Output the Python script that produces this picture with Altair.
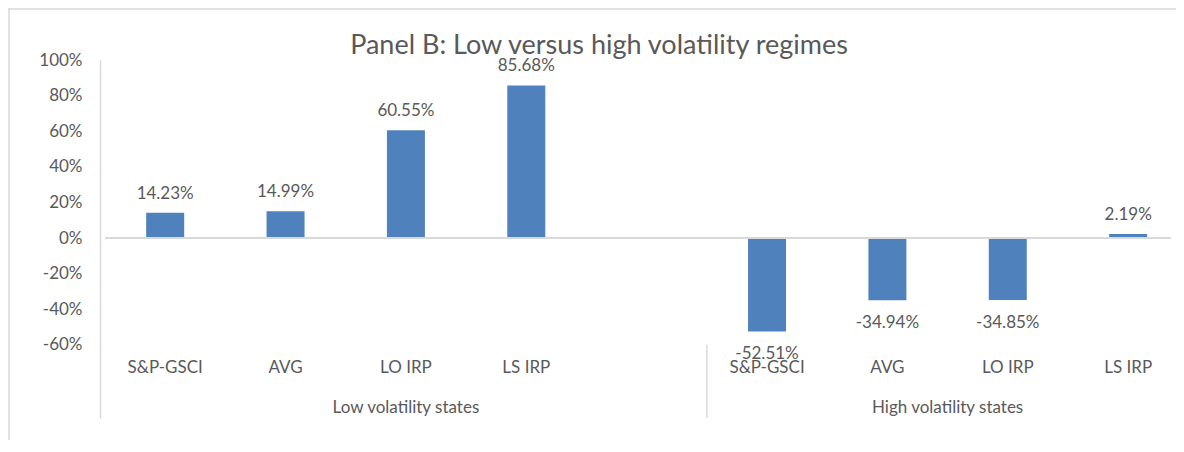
import altair as alt
import pandas as pd

# ---- data ----
categories = ["S&P-GSCI", "AVG", "LO IRP", "LS IRP",
              "S&P-GSCI", "AVG", "LO IRP", "LS IRP"]
groups = ["Low volatility states"] * 4 + ["High volatility states"] * 4
values = [0.1423, 0.1499, 0.6055, 0.8568,
          -0.5251, -0.3494, -0.3485, 0.0219]
slots = [0.5, 1.5, 2.5, 3.5, 5.5, 6.5, 7.5, 8.5]   # one empty slot between groups
group_names = ["Low volatility states", "High volatility states"]
group_centers = [2.5, 7.0]
group_edges = [5.0]
y_ticks = [-0.6, -0.4, -0.2, 0.0, 0.2, 0.4, 0.6, 0.8, 1.0]
title_text = "Panel B: Low versus high volatility regimes"

# ---- style ----
W, H = 1076, 358
SLOT = 121.5
FONT = "Lato"
TXT = "#595959"
LINE = "#d9d9d9"
BAR = "#4f81bd"
Y_MIN = -1.011
CAT_Y = -0.758
GRP_Y = -0.983
DIV_TOP = -0.6

df = pd.DataFrame({"cat": categories, "group": groups, "value": values, "pos": slots})
df["label"] = [f"{v*100:.2f}%" for v in values]
df["cat_y"] = CAT_Y
gdf = pd.DataFrame({"group": group_names, "pos": group_centers, "gy": GRP_Y})
edf = pd.DataFrame({"pos": group_edges, "y1": DIV_TOP, "y2": Y_MIN})
zdf = pd.DataFrame({"x1": [0.0], "x2": [W / SLOT], "y": [0.0]})
tdf = pd.DataFrame({"t": [title_text]})

xs = alt.Scale(domain=[0, W / SLOT], nice=False, zero=False)
ys = alt.Scale(domain=[Y_MIN, 1.0], nice=False, zero=False)

base = alt.Chart(df)

bars = base.mark_bar(size=38, color=BAR).encode(
    x=alt.X("pos:Q", scale=xs, axis=None),
    y=alt.Y("value:Q", scale=ys, title=None,
            axis=alt.Axis(values=y_ticks, ticks=False, grid=False,
                          labelExpr="(datum.value < 0 ? '-' : '') + format(abs(datum.value), '.0%')",
                          domain=True, domainColor=LINE, domainWidth=1.5,
                          labelFont=FONT, labelFontSize=17, labelColor=TXT,
                          labelPadding=18)),
)

pos_labels = base.transform_filter("datum.value >= 0").mark_text(
    font=FONT, fontSize=17, color=TXT, baseline="alphabetic", dy=-14
).encode(x="pos:Q", y="value:Q", text="label:N")

neg_labels = base.transform_filter("datum.value < 0").mark_text(
    font=FONT, fontSize=17, color=TXT, baseline="alphabetic", dy=28
).encode(x="pos:Q", y="value:Q", text="label:N")

cat_labels = base.mark_text(
    font=FONT, fontSize=17, color=TXT, baseline="alphabetic"
).encode(x="pos:Q", y="cat_y:Q", text="cat:N")

grp_labels = alt.Chart(gdf).mark_text(
    font=FONT, fontSize=17, color=TXT, baseline="alphabetic"
).encode(x="pos:Q", y="gy:Q", text="group:N")

zero_rule = alt.Chart(zdf).mark_rule(color=LINE, strokeWidth=2).encode(
    x="x1:Q", x2="x2:Q", y="y:Q"
)

divider = alt.Chart(edf).mark_rule(color=LINE, strokeWidth=1.5).encode(
    x="pos:Q", y="y1:Q", y2="y2:Q"
)

frame_left = alt.Chart(tdf).mark_rule(color=LINE, strokeWidth=1.5).encode(
    x=alt.value(-91), y=alt.value(-52), y2=alt.value(H + 30)
)
frame_top = alt.Chart(tdf).mark_rule(color=LINE, strokeWidth=1.5).encode(
    y=alt.value(-51), x=alt.value(-91), x2=alt.value(W + 20)
)

title = alt.Chart(tdf).mark_text(
    font=FONT, fontSize=27, color=TXT, baseline="alphabetic", align="center"
).encode(x=alt.value(499), y=alt.value(-6), text="t:N")

chart = alt.layer(
    bars, frame_left, frame_top, zero_rule, divider,
    pos_labels, neg_labels, cat_labels, grp_labels, title
).properties(
    width=W, height=H,
    autosize=alt.AutoSizeParams(type="none"),
    padding={"left": 92, "top": 52, "right": 0, "bottom": 22},
    background="white",
).configure_view(stroke=None)

chart.save("out.html", embed_options={"renderer": "svg", "actions": False})
